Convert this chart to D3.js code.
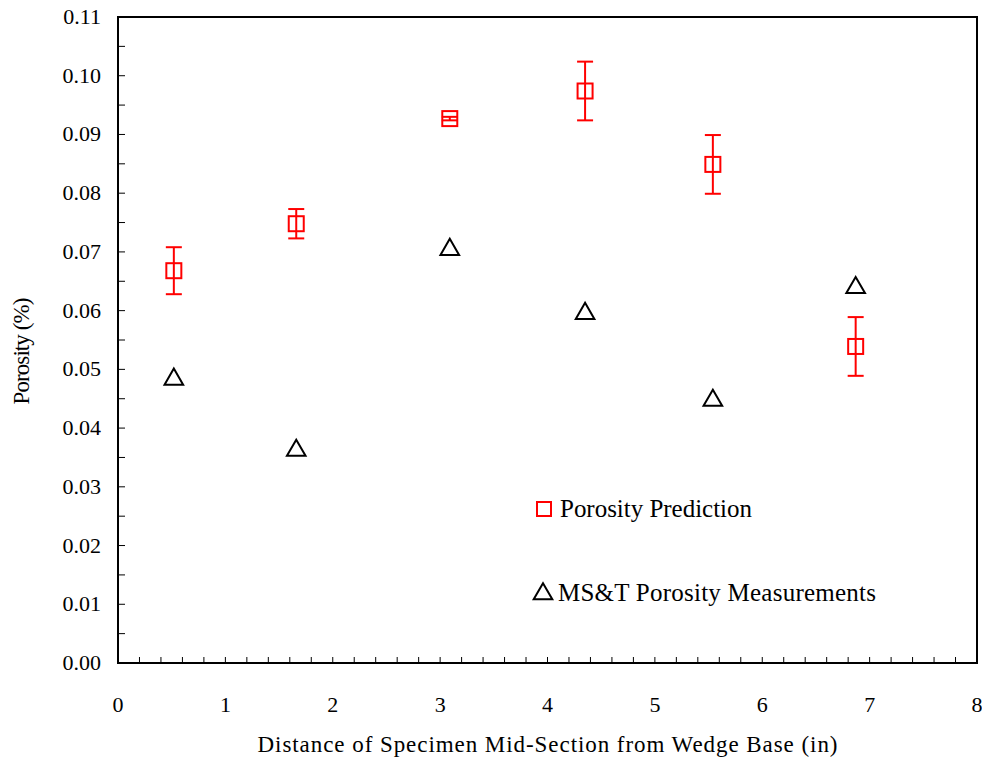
<!DOCTYPE html>
<html>
<head>
<meta charset="utf-8">
<script src="https://cdn.jsdelivr.net/npm/d3@7"></script>
<style>
  body { margin: 0; background: #fff; }
  svg text { font-family: Liberation Serif; }
</style>
</head>
<body>
<svg id="chart" width="982" height="757"></svg>
<script>
// distance from wedge base (in)
const distances = [0.52, 1.66, 3.09, 4.35, 5.54, 6.87];
const predicted = [0.0668, 0.0748, 0.0927, 0.0974, 0.0849, 0.0539];
const predErr = [0.004, 0.0025, 0.0003, 0.005, 0.005, 0.005];
const measured = [0.0483, 0.0362, 0.0704, 0.0595, 0.0447, 0.0639];
const xTicks = [0, 1, 2, 3, 4, 5, 6, 7, 8];
const yTicks = d3.range(0, 0.1101, 0.01);

const svg = d3.select('#chart');
const margin = { top: 17, right: 5, bottom: 94, left: 118 };
const height = +svg.attr('height') - margin.top - margin.bottom;

const g = svg.append('g')
  .attr('transform', `translate(${margin.left},${margin.top})`);

const x = d3.scaleLinear().domain([0, 8]).range([0, 859]);
const y = d3.scaleLinear().domain([0, 0.11]).range([height, 0]);

// frame
g.append('rect')
  .attr('x', 0).attr('y', 0)
  .attr('width', x(8)).attr('height', height)
  .attr('fill', 'none')
  .attr('stroke', '#000')
  .attr('stroke-width', 2);

// minor ticks inside
g.selectAll('.xminor')
  .data(d3.range(0, 40).map(i => i * 0.2))
  .enter().append('line')
  .attr('x1', d => x(d)).attr('x2', d => x(d))
  .attr('y1', height).attr('y2', height - 6)
  .attr('stroke', '#000').attr('stroke-width', 1);

g.selectAll('.yminor')
  .data(d3.range(1, 22).map(i => i * 0.005))
  .enter().append('line')
  .attr('x1', 0).attr('x2', 7)
  .attr('y1', d => y(d)).attr('y2', d => y(d))
  .attr('stroke', '#000').attr('stroke-width', 1);

// tick labels
g.selectAll('.xlab')
  .data(xTicks)
  .enter().append('text')
  .attr('font-family', 'Liberation Serif')
  .attr('x', d => x(d))
  .attr('y', height + 49)
  .attr('text-anchor', 'middle')
  .attr('font-size', 22)
  .text(d => d);

g.selectAll('.ylab')
  .data(yTicks)
  .enter().append('text')
  .attr('font-family', 'Liberation Serif')
  .attr('x', -17)
  .attr('y', d => y(d) + 7)
  .attr('text-anchor', 'end')
  .attr('font-size', 22)
  .text(d => d3.format('.2f')(d));

// axis titles
g.append('text')
  .attr('font-family', 'Liberation Serif')
  .attr('x', x(4))
  .attr('y', height + 89)
  .attr('text-anchor', 'middle')
  .attr('font-size', 23)
  .attr('textLength', 580)
  .attr('lengthAdjust', 'spacing')
  .text('Distance of Specimen Mid-Section from Wedge Base (in)');

g.append('text')
  .attr('font-family', 'Liberation Serif')
  .attr('transform', `translate(${-89},${334}) rotate(-90)`)
  .attr('text-anchor', 'middle')
  .attr('font-size', 23)
  .attr('textLength', 107)
  .attr('lengthAdjust', 'spacing')
  .text('Porosity (%)');

// error bars
const err = g.selectAll('.err')
  .data(distances.map((d, i) => ({ x: d, y: predicted[i], e: predErr[i] })))
  .enter().append('g')
  .attr('stroke', '#f00')
  .attr('stroke-width', 2);

err.append('line')
  .attr('x1', d => x(d.x)).attr('x2', d => x(d.x))
  .attr('y1', d => y(d.y + d.e)).attr('y2', d => y(d.y - d.e));
err.append('line')
  .attr('x1', d => x(d.x) - 8).attr('x2', d => x(d.x) + 8)
  .attr('y1', d => y(d.y + d.e)).attr('y2', d => y(d.y + d.e));
err.append('line')
  .attr('x1', d => x(d.x) - 8).attr('x2', d => x(d.x) + 8)
  .attr('y1', d => y(d.y - d.e)).attr('y2', d => y(d.y - d.e));

// square markers
g.selectAll('.sq')
  .data(distances.map((d, i) => ({ x: d, y: predicted[i] })))
  .enter().append('rect')
  .attr('x', d => x(d.x) - 7.5)
  .attr('y', d => y(d.y) - 7.5)
  .attr('width', 15).attr('height', 15)
  .attr('fill', 'none')
  .attr('stroke', '#f00')
  .attr('stroke-width', 2);

// triangle markers
const tri = d3.symbol().type(d3.symbolTriangle).size(150);
g.selectAll('.tri')
  .data(distances.map((d, i) => ({ x: d, y: measured[i] })))
  .enter().append('path')
  .attr('d', tri)
  .attr('transform', d => `translate(${x(d.x)},${y(d.y)})`)
  .attr('fill', 'none')
  .attr('stroke', '#000')
  .attr('stroke-width', 2);

// legend
const legend = g.append('g').attr('transform', 'translate(426,0)');
legend.append('rect')
  .attr('x', -7).attr('y', 485).attr('width', 14).attr('height', 14)
  .attr('fill', 'none').attr('stroke', '#f00').attr('stroke-width', 2);
legend.append('text')
  .attr('font-family', 'Liberation Serif')
  .attr('x', 16).attr('y', 500)
  .attr('font-size', 25)
  .attr('textLength', 192)
  .attr('lengthAdjust', 'spacing')
  .text('Porosity Prediction');
legend.append('path')
  .attr('d', tri)
  .attr('transform', 'translate(-1,577)')
  .attr('fill', 'none').attr('stroke', '#000').attr('stroke-width', 2);
legend.append('text')
  .attr('font-family', 'Liberation Serif')
  .attr('x', 14).attr('y', 584)
  .attr('font-size', 25)
  .attr('textLength', 318)
  .attr('lengthAdjust', 'spacing')
  .text('MS&T Porosity Measurements');
</script>
</body>
</html>
